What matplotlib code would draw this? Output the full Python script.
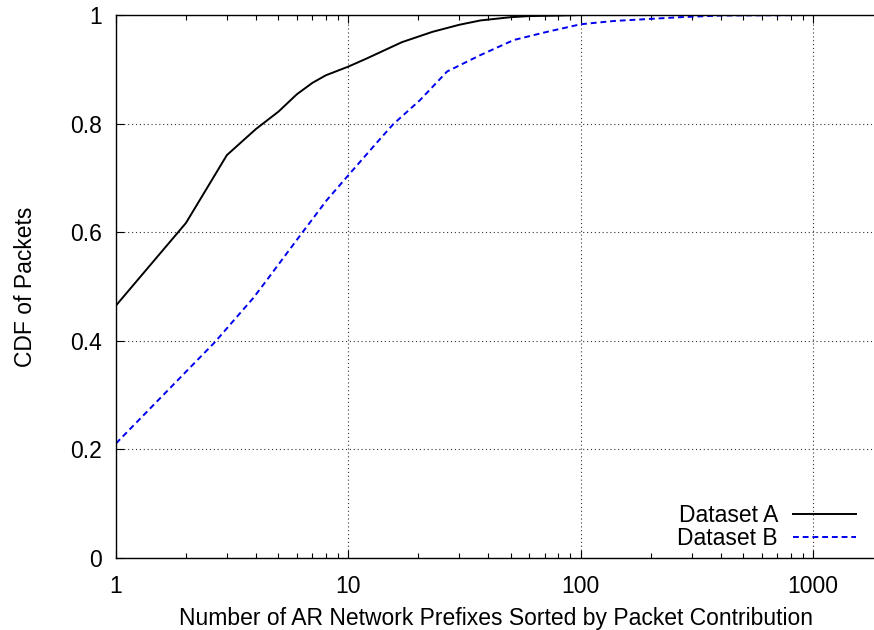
import numpy as np
import matplotlib
matplotlib.use("Agg")
from matplotlib import pyplot as plt
from matplotlib.ticker import LogLocator, FixedLocator, NullFormatter

plt.rcParams['font.family'] = ['Liberation Sans', 'DejaVu Sans']

# Dataset A: CDF of packets vs. number of prefixes
a_x = [1, 2, 3, 4, 5, 6, 7, 8, 10, 12, 17, 23, 30, 37, 50, 60, 80, 100, 300, 1000, 1900]
a_y = [0.465, 0.617, 0.742, 0.790, 0.822, 0.854, 0.875, 0.889, 0.905, 0.920, 0.950,
       0.969, 0.982, 0.990, 0.996, 0.998, 0.999, 1.0, 1.0, 1.0, 1.0]

# Dataset B
b_x = [1, 2, 2.67, 3.42, 3.9, 4.46, 6.3, 8.07, 10, 13.7, 15.6, 20.3, 26.6, 36.9, 51.5,
       71.6, 100, 139, 268, 400, 1000, 1900]
b_y = [0.211, 0.343, 0.398, 0.451, 0.479, 0.512, 0.598, 0.659, 0.705, 0.772, 0.799, 0.843,
       0.896, 0.926, 0.954, 0.969, 0.983, 0.989, 0.996, 0.999, 1.0, 1.0]

xticks = [1, 10, 100, 1000]
yticks = [0, 0.2, 0.4, 0.6, 0.8, 1.0]
FS = 16.5

fig = plt.figure(figsize=(8.74, 6.3), dpi=100)
left, right, top, bottom = 116, 876, 15, 558
ax = fig.add_axes([left/874, 1 - bottom/630, (right - left)/874, (bottom - top)/630])

ax.plot(a_x, a_y, color='black', lw=1.4, label='Dataset A')
ax.plot(b_x, b_y, color='#0000ee', lw=1.4, ls=(0, (3, 2)), label='Dataset B')

ax.set_xscale('log')
ax.set_xlim(1, 10 ** ((right - left) / 232.4))
ax.set_ylim(0, 1)

ax.xaxis.set_major_locator(FixedLocator(xticks))
ax.set_xticklabels([str(t) for t in xticks])
ax.xaxis.set_minor_locator(LogLocator(base=10, subs=np.arange(2, 10)))
ax.xaxis.set_minor_formatter(NullFormatter())
ax.set_yticks(yticks)
ax.set_yticklabels(['0', '0.2', '0.4', '0.6', '0.8', '1'])

ax.tick_params(which='both', direction='in', top=True, right=False, labelsize=FS,
               colors='black', width=0.8)
ax.tick_params(which='major', length=6)
ax.tick_params(which='minor', length=3.5)
ax.tick_params(axis='x', which='major', pad=12)
ax.tick_params(axis='y', which='major', pad=10)
ax.spines['right'].set_visible(False)
for s in ['left', 'top', 'bottom']:
    ax.spines[s].set_linewidth(1.0)

ax.grid(True, which='major', color='#333333', ls=(0, (1, 2.5)), lw=0.8)

ax.set_xlabel('Number of AR Network Prefixes Sorted by Packet Contribution', fontsize=FS, labelpad=7)
ax.set_ylabel('CDF of Packets', fontsize=FS, labelpad=24)

leg = ax.legend(loc='lower right', frameon=False, markerfirst=False, fontsize=FS,
                handlelength=2.75, handletextpad=0.65, labelspacing=0.0,
                borderaxespad=0, borderpad=0,
                bbox_to_anchor=((856 - left) / (right - left), 0.014))

fig.savefig('out.png', dpi=100)
